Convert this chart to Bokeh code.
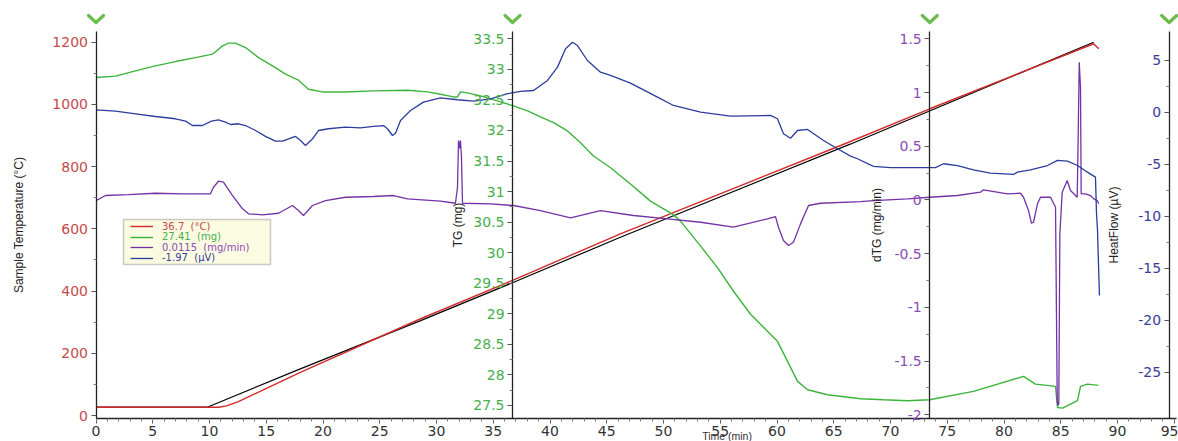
from bokeh.plotting import figure
from bokeh.models import (Range1d, LinearAxis, FixedTicker, NumeralTickFormatter,
                          Legend, LegendItem, BoxAnnotation)
from bokeh.core.properties import value
from bokeh.embed import file_html
from bokeh.resources import INLINE

# ---------------- data ----------------
# Sample temperature (°C)
temp_t = [0, 10.8, 11.5, 12.5, 18.0, 28.6, 36.8, 46.2, 65.6, 73.46, 87.9, 88.35]
temp_v = [26.7, 26.7, 31, 44, 139, 311, 436, 584, 868, 986, 1195, 1179]
# Program temperature (°C)
prog_t = [0, 9.8, 18.0, 28.6, 36.8, 46.2, 66.5, 87.9]
prog_v = [26.7, 26.7, 150, 305, 428.5, 573, 873, 1200]
# TG (mg)
tg_t = [0, 1.72, 3.48, 5.24, 7.00, 8.77, 10.26, 11.15, 11.67, 12.29, 13.17, 14.32, 15.55,
        16.70, 17.84, 18.72, 19.96, 21.98, 24.45, 27.45, 29.21, 30.35, 31.50, 31.85, 32.11,
        32.73, 33.88, 35.37, 36.78, 38.02, 39.16, 40.31, 41.54, 42.69, 43.83, 45.33, 47.09,
        48.85, 50.79, 51.5, 53.27, 54.77, 56.17, 57.67, 59.16, 60.04, 60.93, 61.81, 62.69,
        64.45, 67.36, 69.38, 71.5, 73.44, 77.31, 81.72, 82.77, 84.54, 84.71, 85.15, 86.48,
        86.74, 87.35, 88.32]
tg_v = [32.866, 32.89, 32.975, 33.057, 33.128, 33.193, 33.249, 33.385, 33.43, 33.43, 33.357,
        33.193, 33.057, 32.921, 32.823, 32.675, 32.631, 32.631, 32.648, 32.659, 32.631, 32.593,
        32.549, 32.549, 32.631, 32.615, 32.566, 32.484, 32.402, 32.320, 32.221, 32.128, 31.992,
        31.80, 31.582, 31.39, 31.123, 30.844, 30.631, 30.516, 30.107, 29.751, 29.369, 28.992,
        28.713, 28.549, 28.221, 27.893, 27.757, 27.675, 27.61, 27.593, 27.577, 27.593, 27.73,
        27.975, 27.849, 27.811, 27.467, 27.456, 27.577, 27.811, 27.849, 27.828]
# dTG (mg/min)
dtg_t = [0, 0.84, 2.86, 5.24, 7.62, 10.08, 10.35, 10.79, 11.23, 12.03, 12.91, 13.44, 14.67,
         16.08, 17.31, 17.84, 18.28, 19.07, 20.22, 21.98, 24.45, 26.21, 27.45, 30.35, 31.67,
         31.85, 31.94, 32.03, 32.11, 32.2, 32.29, 34.76, 36.78, 39.16, 41.81, 44.45, 47.36,
         50.35, 53.27, 56.17, 59.16, 59.87, 60.13, 60.57, 61.01, 61.45, 62.07, 62.78, 63.83,
         67.36, 68.5, 71.5, 73.44, 75.9, 77.93, 78.19, 80.3, 81.45, 81.72, 82.16, 82.42, 82.6,
         82.95, 83.22, 84.1, 84.54, 84.69, 84.76, 84.83, 84.92, 85.13, 85.57, 85.86, 86.15,
         86.45, 86.54, 86.63, 86.74, 86.8, 87.18, 87.62, 87.91, 88.21, 88.35]
dtg_v = [-0.006, 0.041, 0.050, 0.062, 0.057, 0.057, 0.118, 0.174, 0.165, 0.041, -0.083,
         -0.129, -0.139, -0.124, -0.052, -0.099, -0.145, -0.052, -0.006, 0.025, 0.032, 0.041,
         0.010, -0.012, -0.031, 0.118, 0.553, 0.479, 0.553, 0.398, -0.031, -0.036, -0.052,
         -0.099, -0.167, -0.099, -0.145, -0.176, -0.208, -0.254, -0.176, -0.155, -0.254,
         -0.378, -0.425, -0.394, -0.223, -0.052, -0.031, -0.015, -0.006, 0.010, 0.025, 0.041,
         0.072, 0.094, 0.057, 0.062, 0.025, -0.099, -0.217, -0.208, -0.036, 0.025, 0.025,
         -0.068, -1.868, -1.914, -1.898, -0.316, 0.072, 0.181, 0.088, 0.057, 0.025, 0.615,
         1.282, 1.049, 0.057, 0.057, 0.041, 0.010, -0.006, -0.036]
# HeatFlow (µV)
hf_t = [0, 1.72, 3.48, 5.24, 7.00, 7.89, 8.50, 9.38, 10.17, 10.79, 11.41, 11.85, 12.56,
        13.17, 14.05, 14.93, 15.82, 16.43, 17.58, 18.02, 18.46, 19.08, 19.6, 20.48, 21.98,
        23.3, 24.45, 25.33, 25.68, 26.12, 26.39, 26.83, 27.71, 28.85, 30.35, 31.85, 33.26,
        34.76, 36.26, 37.4, 38.55, 39.78, 40.66, 41.37, 41.98, 42.42, 43.3, 44.45, 45.33,
        47.09, 49.47, 50.88, 53.27, 55.9, 59.43, 60.04, 60.57, 61.19, 61.81, 62.69, 64.1,
        65.33, 66.48, 67.09, 68.5, 70.0, 73.96, 74.67, 75.9, 77.31, 78.81, 80.84, 81.19,
        82.33, 83.83, 84.71, 85.59, 86.48, 87.35, 88.06, 88.15, 88.24, 88.33, 88.41]
hf_v = [0.255, 0.12, -0.13, -0.39, -0.61, -0.84, -1.26, -1.26, -0.84, -0.71, -0.94, -1.16,
        -1.09, -1.26, -1.74, -2.31, -2.77, -2.77, -2.31, -2.70, -3.18, -2.54, -1.74, -1.57,
        -1.42, -1.48, -1.35, -1.26, -1.57, -2.22, -2.00, -0.77, 0.19, 0.99, 1.41, 1.22, 1.08,
        1.31, 1.80, 2.02, 2.11, 3.08, 4.36, 6.13, 6.76, 6.44, 5.0, 3.87, 3.56, 2.82, 1.47,
        0.67, 0.02, -0.36, -0.29, -0.61, -2.05, -2.48, -1.74, -1.64, -2.70, -3.50, -4.20,
        -4.46, -5.20, -5.32, -5.32, -4.94, -5.11, -5.52, -5.85, -5.97, -5.75, -5.52, -5.11,
        -4.62, -4.69, -5.11, -5.75, -6.23, -9.72, -11.36, -14.73, -17.62]

x_ticks = list(range(0, 96, 5))
temp_ticks = [0, 200, 400, 600, 800, 1000, 1200]
tg_ticks = [27.5, 28, 28.5, 29, 29.5, 30, 30.5, 31, 31.5, 32, 32.5, 33, 33.5]
dtg_ticks = [-2, -1.5, -1, -0.5, 0, 0.5, 1, 1.5]
hf_ticks = [-25, -20, -15, -10, -5, 0, 5]

# axis spans (value at bottom, value at top of the drawn axis lines)
time_span = (0, 95.2)
temp_span = (-9.6, 1234.4)
tg_span = (27.286, 33.62)
dtg_span = (-2.035, 1.568)
hf_span = (-29.46, 7.79)
axis_x = {"temp": 0, "tg": 36.7, "dtg": 73.46, "hf": 94.55}

legend_labels = ["36.7  (°C)", "27.41  (mg)", "0.0115  (mg/min)", "-1.97  (µV)"]

# ---------------- layout geometry (pixels) ----------------
W, H = 1178, 441
X0_PX = 95.5           # pixel of time 0
PX_PER_MIN = 11.35
AXIS_TOP = 31          # where the vertical axis lines start
AXIS_BOTTOM = 418      # where the time axis sits
AX_H = AXIS_BOTTOM - AXIS_TOP

def extended(span):
    lo, hi = span
    per_px = (hi - lo) / AX_H
    return Range1d(lo - per_px * (H - AXIS_BOTTOM), hi + per_px * AXIS_TOP)

def at_px(span, py):
    lo, hi = span
    return hi - (hi - lo) * (py - AXIS_TOP) / AX_H

RED, GREEN, PURPLE, BLUE = "#d42a2a", "#3cb43c", "#7432a6", "#2c3c9c"
RED_T, GREEN_T, PURPLE_T, BLUE_T = "#c44a4a", "#48ae4c", "#8a4cb4", "#34409a"
TICK_FONT = "DejaVu Sans"
LABEL_FONT = "Liberation Sans"

x_range = Range1d(-X0_PX / PX_PER_MIN, (W - X0_PX) / PX_PER_MIN)
p = figure(width=W, height=H, x_range=x_range, y_range=extended(temp_span),
           output_backend="svg", toolbar_location=None,
           min_border_left=0, min_border_right=0, min_border_top=0, min_border_bottom=0)
p.outline_line_color = None
p.xgrid.visible = False
p.ygrid.visible = False
p.background_fill_color = "white"

p.extra_y_ranges = {"tg": extended(tg_span), "dtg": extended(dtg_span), "hf": extended(hf_span)}

def minors(ticks, step_div):
    out = []
    for a, b in zip(ticks[:-1], ticks[1:]):
        d = (b - a) / step_div
        out += [a + d * k for k in range(1, step_div)]
    return out

def style_axis(ax, color, size="14px"):
    ax.axis_line_color = "#222222"
    ax.axis_line_width = 1.3
    ax.major_tick_line_color = "#555555"
    ax.minor_tick_line_color = "#777777"
    ax.major_tick_out = 5
    ax.major_tick_in = 0
    ax.minor_tick_out = 3
    ax.minor_tick_in = 0
    ax.major_label_text_color = color
    ax.major_label_text_font = TICK_FONT
    ax.major_label_text_font_size = size
    ax.major_label_standoff = 3
    ax.axis_label_text_font = LABEL_FONT
    ax.axis_label_text_font_size = "12px"
    ax.axis_label_text_font_style = "normal"
    ax.axis_label_text_color = "#222222"

# time axis, fixed at the bottom of the temperature span
xa = p.xaxis[0]
xa.ticker = FixedTicker(ticks=x_ticks, minor_ticks=list(range(0, 96)))
style_axis(xa, "#333333")
xa.major_label_standoff = 2
xa.fixed_location = temp_span[0]
xa.bounds = time_span

# temperature axis, fixed at time 0
ya = p.yaxis[0]
ya.ticker = FixedTicker(ticks=temp_ticks, minor_ticks=minors(temp_ticks, 2))
style_axis(ya, RED_T)
ya.axis_label = "Sample Temperature (°C)"
ya.axis_label_standoff = 24
ya.bounds = temp_span
ya.fixed_location = axis_x["temp"]

def fixed_axis(rng, span, ticks, color, label, standoff):
    ax = LinearAxis(y_range_name=rng, fixed_location=axis_x[rng],
                    ticker=FixedTicker(ticks=ticks, minor_ticks=minors(ticks, 2)),
                    formatter=NumeralTickFormatter(format="0.[0]"), axis_label=label,
                    bounds=span)
    style_axis(ax, color)
    ax.axis_label_standoff = standoff
    p.add_layout(ax, "left")
    return ax

fixed_axis("tg", tg_span, tg_ticks, GREEN_T, "TG (mg)", 5)
fixed_axis("dtg", dtg_span, dtg_ticks, PURPLE_T, "dTG (mg/min)", 7)
fixed_axis("hf", hf_span, hf_ticks, BLUE_T, "HeatFlow (µV)", 15)

# ---------------- curves ----------------
r_prog = p.line(prog_t, prog_v, color="black", line_width=1.2)
r_temp = p.line(temp_t, temp_v, color=RED, line_width=1.4)
r_tg = p.line(tg_t, tg_v, color=GREEN, line_width=1.4, y_range_name="tg")
r_dtg = p.line(dtg_t, dtg_v, color=PURPLE, line_width=1.3, y_range_name="dtg")
r_hf = p.line(hf_t, hf_v, color=BLUE, line_width=1.3, y_range_name="hf")

# ---------------- legend (screen units from the frame's bottom-left) ----------------
LEG_LEFT, LEG_RIGHT, LEG_TOP, LEG_BOTTOM = 123, 270, 219, 264
p.add_layout(BoxAnnotation(left=LEG_LEFT, right=LEG_RIGHT, bottom=H - LEG_BOTTOM, top=H - LEG_TOP,
                           left_units="screen", right_units="screen",
                           top_units="screen", bottom_units="screen",
                           fill_color="#fbfbe2", fill_alpha=1,
                           line_color="#555555", line_width=1.5, level="overlay"))
rows = [(r_temp, RED_T), (r_tg, GREEN_T), (r_dtg, PURPLE_T), (r_hf, BLUE_T)]
row_centers_px = [226, 236.6, 247.2, 257.8]
for (rend, col), lab, cy in zip(rows, legend_labels, row_centers_px):
    lg = Legend(items=[LegendItem(label=lab, renderers=[rend])],
                location=(LEG_LEFT + 7, H - cy - 6), padding=0, margin=0, spacing=0,
                glyph_width=23, glyph_height=12, label_height=12, label_standoff=9,
                label_text_font="DejaVu Sans", label_text_font_size="10px",
                label_text_color=col, background_fill_alpha=0, border_line_alpha=0)
    p.add_layout(lg, "center")

# ---------------- chevrons above the axes and the time title ----------------
chev_x = [axis_x[k] for k in ("temp", "tg", "dtg", "hf")]
half_w = 7.5 / PX_PER_MIN
y_hi, y_lo = at_px(temp_span, 15), at_px(temp_span, 22)
p.multi_line(xs=[[c - half_w, c, c + half_w] for c in chev_x],
             ys=[[y_hi, y_lo, y_hi] for _ in chev_x],
             line_color="#6cbc4c", line_width=3.2, line_cap="round", line_join="round")
p.text(x=[55.6], y=[at_px(temp_span, 435)], text=["Time (min)"],
       text_align="center", text_baseline="middle", text_color="#333333",
       text_font_size="10.5px", text_font=value("Liberation Sans"))

open("out.html", "w").write(file_html(p, INLINE))
